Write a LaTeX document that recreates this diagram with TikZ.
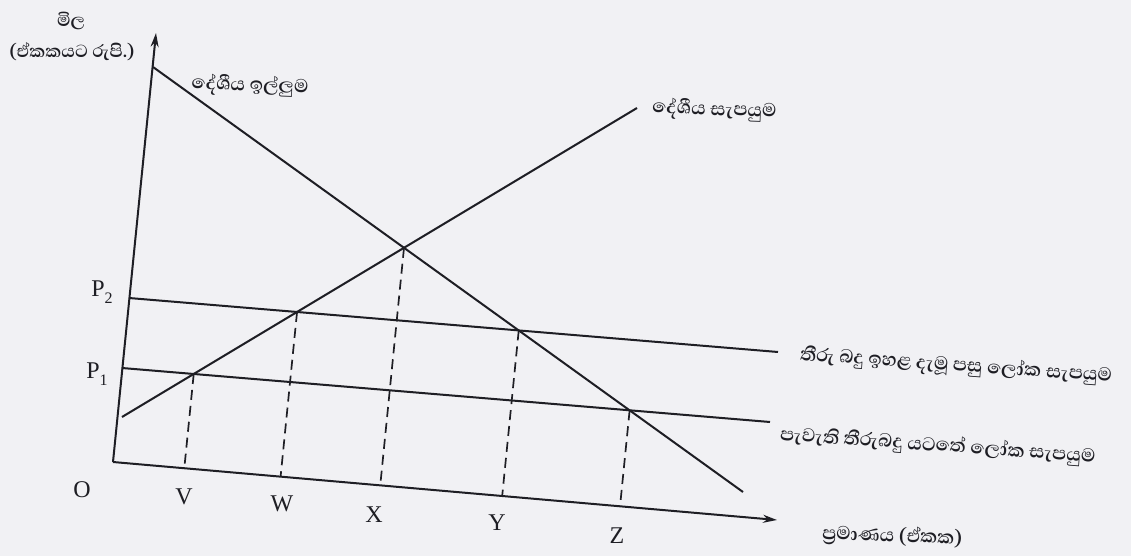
\documentclass[tikz,border=0pt]{standalone}
\usepackage{fontspec}
\setmainfont{Liberation Serif}
\newfontfamily\sinhala[Script=Sinhala]{Abhaya Libre}
\usetikzlibrary{arrows.meta,calc}
\definecolor{paper}{RGB}{241,241,244}
\definecolor{ink}{RGB}{30,30,36}
\begin{document}
\begin{tikzpicture}[x=1pt,y=-1pt,
  axis/.style={line width=2pt, draw=ink, -{Stealth[length=14pt,width=8pt]}},
  curve/.style={line width=2pt, draw=ink},
  guide/.style={line width=1.7pt, draw=ink, dash pattern=on 10pt off 6pt},
  lab/.style={font=\fontsize{24}{24}\selectfont, text=ink, inner sep=0pt},
  si/.style={font=\sinhala\bfseries\fontsize{24}{26}\selectfont, text=ink, inner sep=0pt},
  siy/.style={font=\sinhala\bfseries\fontsize{22.5}{24}\selectfont, text=ink, inner sep=0pt}]
\fill[paper] (0,0) rectangle (1131,556);
\useasboundingbox (0,0) rectangle (1131,556);
% base points
\coordinate (O) at (113,462);
\coordinate (ytop) at (156,33);
\coordinate (xend) at (777,520);
\coordinate (D1) at (153,67);
\coordinate (D2) at (743,492);
\coordinate (S1) at (122,417);
\coordinate (S2) at (637,108);
\coordinate (H1) at (129,298);
\coordinate (H2) at (778,352);
\coordinate (L1) at (122,368);
\coordinate (L2) at (770,422);
% intersections
\coordinate (V) at (intersection of L1--L2 and S1--S2);
\coordinate (W) at (intersection of H1--H2 and S1--S2);
\coordinate (X) at (intersection of D1--D2 and S1--S2);
\coordinate (Y) at (intersection of D1--D2 and H1--H2);
\coordinate (Z) at (intersection of D1--D2 and L1--L2);
\foreach \p in {V,W,X,Y,Z}{
  \coordinate (\p d) at ($(\p)+(-10,100)$);
  \coordinate (\p f) at (intersection of \p--\p d and O--xend);
}
% axes
\draw[axis] (O) -- (ytop);
\draw[axis] (O) -- (xend);
% lines
\draw[curve] (D1) -- (D2);
\draw[curve] (S1) -- (S2);
\draw[curve] (H1) -- (H2);
\draw[curve] (L1) -- (L2);
% guides
\foreach \p in {V,W,X,Y,Z}{ \draw[guide] (\p) -- (\p f); }
% labels
\node[lab] (lO) at (82,490) {O};
\node[lab] (lV) at (184,497) {V};
\node[lab] (lW) at (282,504) {W};
\node[lab] (lX) at (374,515) {X};
\node[lab] (lY) at (497,523) {Y};
\node[lab] (lZ) at (617,536) {Z};
\node[lab] (lP2) at (102,292) {P\raisebox{-0.3em}{\fontsize{16}{16}\selectfont 2}};
\node[lab] (lP1) at (97,374) {P\raisebox{-0.3em}{\fontsize{16}{16}\selectfont 1}};
\node[siy] (yl1) at (71,21) {මිල};
\node[siy] (yl2) at (72,52) {(ඒකකයට රුපි.)};
\node[si, rotate=-2] (dl) at (250,86) {දේශීය ඉල්ලුම};
\node[si, rotate=-2, anchor=west] (sl) at (652,108) {දේශීය සැපයුම};
\node[si, rotate=-4, anchor=west] (hl) at (800,355) {තීරු බදු ඉහළ දැමූ පසු ලෝක සැපයුම};
\node[si, rotate=-4, anchor=west] (ll) at (780,435) {පැවැති තීරුබදු යටතේ ලෝක සැපයුම};
\node[si, rotate=-2, anchor=west] (xl) at (822,534) {ප්^^^^200dරමාණය (ඒකක)};
\end{tikzpicture}
\end{document}
